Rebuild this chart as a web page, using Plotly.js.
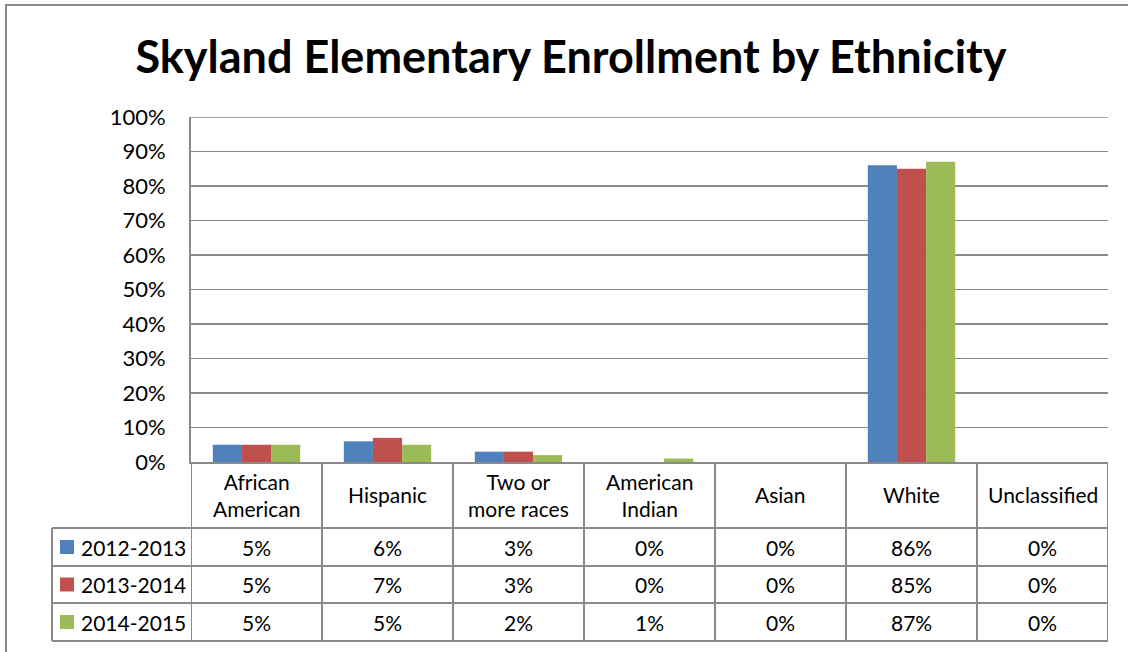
<!DOCTYPE html>
<html>
<head>
<meta charset="utf-8">
<script src="https://cdn.plot.ly/plotly-3.0.1.min.js"></script>
<style>
  html, body { margin: 0; padding: 0; background: #ffffff; }
  #chart { width: 1128px; height: 652px; }
</style>
</head>
<body>
<div id="chart"></div>
<script>
// ---- Data ----
const categories = ["African American", "Hispanic", "Two or more races", "American Indian", "Asian", "White", "Unclassified"];
const categoryLabels = ["African<br>American", "Hispanic", "Two or<br>more races", "American<br>Indian", "Asian", "White", "Unclassified"];
const seriesNames = ["2012-2013", "2013-2014", "2014-2015"];
const values2012 = [5, 6, 3, 0, 0, 86, 0];
const values2013 = [5, 7, 3, 0, 0, 85, 0];
const values2014 = [5, 5, 2, 1, 0, 87, 0];
const yTickValues = [0, 10, 20, 30, 40, 50, 60, 70, 80, 90, 100];

const seriesValues = [values2012, values2013, values2014];
const colors = ["#4F81BD", "#C0504D", "#9BBB59"];

// ---- Layout geometry (pixels) ----
const W = 1128, H = 652;
const plotL = 191, plotR = 1108, plotT = 117, plotB = 462;
const pw = plotR - plotL, ph = plotB - plotT;
const px = v => (v - plotL) / pw;
const py = v => (plotB - v) / ph;

const FONT = "Lato, 'Open Sans', sans-serif";
const lineColor = "#8a8a8a";
const tableFont = 21;

const traces = seriesNames.map((name, i) => ({
  type: "bar",
  name: name,
  x: categories,
  y: seriesValues[i],
  marker: { color: colors[i], line: { width: 0 } },
  hoverinfo: "x+y+name",
  showlegend: false
}));

// ---- Data table (shapes + annotations) ----
const shapes = [];
const annotations = [];
const headerTop = 462, headerBot = 528;
const rowEdges = [528, 566, 603, 641];
const tableLeft = 52;

// outer chart border
shapes.push({ type: "rect", xref: "paper", yref: "paper",
  x0: px(6), x1: px(W + 10), y0: py(5), y1: py(H + 10),
  line: { color: "#8a8a8a", width: 2 }, fillcolor: "rgba(0,0,0,0)", layer: "below" });

// top (100%) gridline
shapes.push({ type: "line", xref: "paper", yref: "y", x0: 0, x1: 1,
  y0: yTickValues[yTickValues.length - 1], y1: yTickValues[yTickValues.length - 1],
  line: { color: lineColor, width: 1.5 }, layer: "below" });

// horizontal table lines
rowEdges.forEach(y => {
  shapes.push({ type: "line", xref: "paper", yref: "paper",
    x0: px(tableLeft), x1: 1, y0: py(y), y1: py(y), line: { color: lineColor, width: 2 } });
});
// left border of legend column
shapes.push({ type: "line", xref: "paper", yref: "paper",
  x0: px(tableLeft), x1: px(tableLeft), y0: py(rowEdges[0]), y1: py(rowEdges[3]), line: { color: lineColor, width: 2 } });
// vertical category boundaries
for (let i = 0; i <= categories.length; i++) {
  shapes.push({ type: "line", xref: "x", yref: "paper",
    x0: i - 0.5, x1: i - 0.5, y0: py(headerTop), y1: py(rowEdges[3]), line: { color: lineColor, width: 2 } });
}

// header labels
categoryLabels.forEach((lab, i) => {
  annotations.push({ xref: "x", yref: "paper", x: i, y: py((headerTop + headerBot) / 2),
    text: lab, showarrow: false, xanchor: "center", yanchor: "middle",
    font: { family: FONT, size: tableFont, color: "#000" } });
});

// rows
seriesNames.forEach((name, r) => {
  const yc = (rowEdges[r] + rowEdges[r + 1]) / 2;
  shapes.push({ type: "rect", xref: "paper", yref: "paper",
    x0: px(60), x1: px(74), y0: py(yc - 7), y1: py(yc + 7),
    fillcolor: colors[r], line: { width: 0 } });
  annotations.push({ xref: "paper", yref: "paper", x: px(79), y: py(yc),
    text: name, showarrow: false, xanchor: "left", yanchor: "middle",
    font: { family: FONT, size: tableFont, color: "#000" } });
  seriesValues[r].forEach((v, i) => {
    annotations.push({ xref: "x", yref: "paper", x: i, y: py(yc),
      text: v + "%", showarrow: false, xanchor: "center", yanchor: "middle",
      font: { family: FONT, size: tableFont, color: "#000" } });
  });
});

const layout = {
  width: W, height: H,
  margin: { l: plotL, r: W - plotR, t: plotT, b: H - plotB, pad: 0 },
  paper_bgcolor: "#ffffff", plot_bgcolor: "#ffffff",
  title: { text: "<b>Skyland Elementary Enrollment by Ethnicity</b>",
    xref: "container", yref: "container", x: 571 / W, y: 1 - 57 / H,
    xanchor: "center", yanchor: "middle",
    font: { family: FONT, size: 45, color: "#000" } },
  barmode: "group", bargap: 0.333, bargroupgap: 0,
  xaxis: { type: "category", range: [-0.5, categories.length - 0.5],
    showticklabels: false, ticks: "", showgrid: false,
    showline: true, linecolor: lineColor, linewidth: 2, zeroline: false, fixedrange: true },
  yaxis: { range: [0, 100], tickvals: yTickValues, ticktext: yTickValues.map(v => v + "%"),
    showgrid: true, gridcolor: lineColor, gridwidth: 1.5,
    showline: true, linecolor: lineColor, linewidth: 2, zeroline: false,
    ticks: "", ticklabelstandoff: 19,
    tickfont: { family: FONT, size: 22, color: "#000" }, fixedrange: true },
  shapes: shapes,
  annotations: annotations,
  showlegend: false
};

Plotly.newPlot("chart", traces, layout, { displayModeBar: false, staticPlot: true });
</script>
</body>
</html>
